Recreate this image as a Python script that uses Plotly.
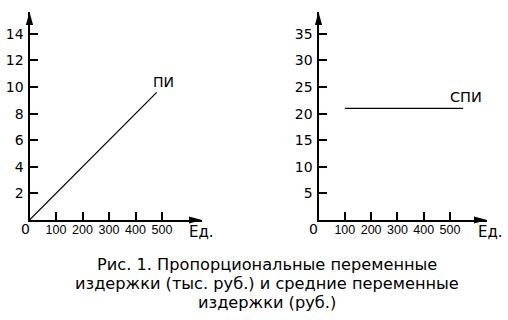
import plotly.graph_objects as go

W, H = 508, 320

# ---- data ----
pi_x = [0, 480]
pi_y = [0, 9.6]
spi_x = [100, 550]
spi_y = [21, 21]

left_xticks = [100, 200, 300, 400, 500]
left_yticks = [2, 4, 6, 8, 10, 12, 14]
right_xticks = [100, 200, 300, 400, 500]
right_yticks = [5, 10, 15, 20, 25, 30, 35]

caption_lines = [
    "Рис. 1. Пропорциональные переменные",
    "издержки (тыс. руб.) и средние переменные",
    "издержки (руб.)",
]

WIDE = "DejaVu Sans, Verdana, sans-serif"
NARROW = "Liberation Sans, Arial, sans-serif"


def px(x):
    return x / W


def py(y):
    return (H - y) / H


# pixel layout
L_x0, L_x1 = 29.5, 202
R_x0, R_x1 = 318.5, 487
Y0, Y1 = 220, 12

L_xrange = [0, (L_x1 - L_x0) / 0.265]
L_yrange = [0, (Y0 - Y1) / 13.3]
R_xrange = [0, (R_x1 - R_x0) / 0.263]
R_yrange = [0, (Y0 - Y1) / 5.32]

fig = go.Figure()
fig.add_trace(go.Scatter(x=pi_x, y=pi_y, mode="lines", line=dict(color="black", width=1.2),
                         xaxis="x", yaxis="y", showlegend=False, hoverinfo="skip"))
fig.add_trace(go.Scatter(x=spi_x, y=spi_y, mode="lines", line=dict(color="black", width=1.2),
                         xaxis="x2", yaxis="y2", showlegend=False, hoverinfo="skip"))

axcommon = dict(showgrid=False, zeroline=False, showline=True, linecolor="black", linewidth=2,
                ticks="inside", ticklen=8, tickwidth=1.5, tickcolor="black", fixedrange=True)
xfont = dict(family=NARROW, size=12.5, color="black")
yfont = dict(family=WIDE, size=14, color="black")

fig.update_layout(
    width=W, height=H,
    margin=dict(l=0, r=0, t=0, b=0),
    paper_bgcolor="white", plot_bgcolor="white",
    showlegend=False,
    xaxis=dict(domain=[px(L_x0), px(L_x1)], range=L_xrange, anchor="y",
               tickvals=left_xticks, tickfont=xfont, ticklabelstandoff=-3, **axcommon),
    yaxis=dict(domain=[py(Y0), py(Y1)], range=L_yrange, anchor="x",
               tickvals=left_yticks, tickfont=yfont, ticklabelstandoff=1, **axcommon),
    xaxis2=dict(domain=[px(R_x0), px(R_x1)], range=R_xrange, anchor="y2",
                tickvals=right_xticks, tickfont=xfont, ticklabelstandoff=-3, **axcommon),
    yaxis2=dict(domain=[py(Y0), py(Y1)], range=R_yrange, anchor="x2",
                tickvals=right_yticks, tickfont=yfont, ticklabelstandoff=1, **axcommon),
)

# arrowheads (axis decorations)
shapes = []
hl, hw = 13, 3.6
for x0, x1 in [(L_x0, L_x1), (R_x0, R_x1)]:
    shapes.append(dict(type="path", xref="paper", yref="paper", line=dict(width=0), fillcolor="black",
                       path=f"M {px(x1)},{py(Y0)} L {px(x1 - hl)},{py(Y0 - hw)} L {px(x1 - hl)},{py(Y0 + hw)} Z"))
    shapes.append(dict(type="path", xref="paper", yref="paper", line=dict(width=0), fillcolor="black",
                       path=f"M {px(x0)},{py(Y1)} L {px(x0 - hw)},{py(Y1 + hl)} L {px(x0 + hw)},{py(Y1 + hl)} Z"))
fig.update_layout(shapes=shapes)


def txt(x, y, s, font, xref="paper", yref="paper"):
    return dict(x=x, y=y, xref=xref, yref=yref, text=s, showarrow=False, font=font,
                xanchor="center", yanchor="middle")


ann = []
lf = dict(family=WIDE, size=14, color="black")
ann.append(txt(px(25), py(229), "0", lf))
ann.append(txt(px(313), py(229), "0", lf))
ann.append(txt(px(201), py(232), "Ед.", dict(family=WIDE, size=15, color="black")))
ann.append(txt(px(490), py(232), "Ед.", dict(family=WIDE, size=15, color="black")))
ann.append(txt(504, 10.35, "ПИ", lf, "x", "y"))
ann.append(txt(561, 23.1, "СПИ", dict(family=WIDE, size=14.5, color="black"), "x2", "y2"))
for yy, line in zip([264, 283, 302], caption_lines):
    ann.append(txt(px(267), py(yy), line, dict(family=WIDE, size=16.2, color="black")))
fig.update_layout(annotations=ann)

fig.write_html("out.html")
